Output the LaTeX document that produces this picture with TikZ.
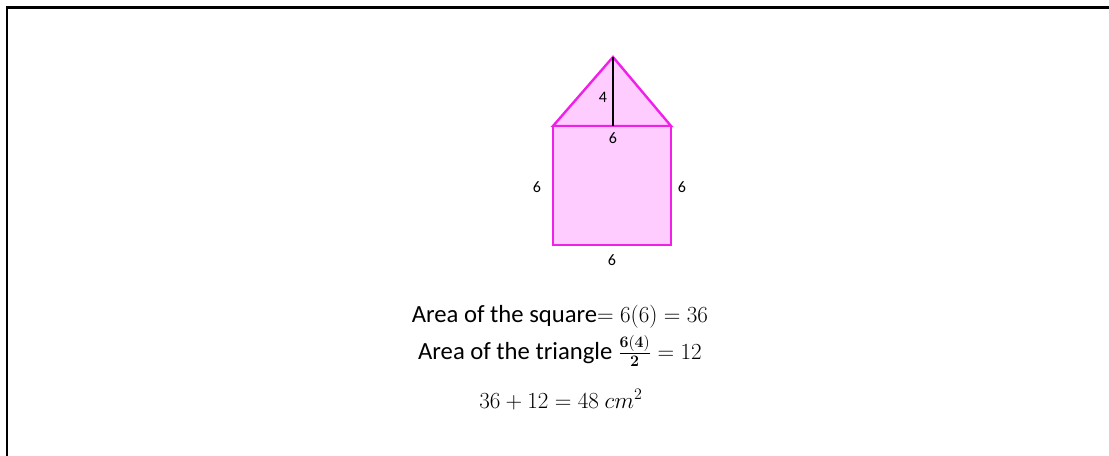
\documentclass[tikz,border=0pt]{standalone}
\usepackage{amsmath}
\usepackage[no-math]{fontspec}
\setmainfont{Carlito}
\usepackage{xcolor}
\usetikzlibrary{positioning, calc}
\definecolor{shapepink}{HTML}{FFCCFF}
\definecolor{shapeline}{HTML}{F020E8}
\tikzset{
    dimlabel/.style={font=\fontsize{12}{14}\selectfont, inner sep=1pt},
    areatext/.style={font=\fontsize{18.5}{22}\selectfont, inner sep=0pt, anchor=base}
}

\begin{document}
\begin{tikzpicture}[x=0.75pt, y=-0.75pt]
    \useasboundingbox (0, 0) rectangle (1109, 456);
    % 边框
    \draw[line width=1.9pt] (7, 456) -- (7, 7.5) -- (1109, 7.5);

    % 顶点
    \coordinate (sqbl) at (553, 245);
    \coordinate (sqbr) at (671, 245);
    \coordinate (sqtr) at (671, 126);
    \coordinate (sqtl) at (553, 126);
    \coordinate (apex) at (613, 57);
    \coordinate (foot) at (613, 126);

    % 三角形 和 正方形
    \draw[line width=1.8pt, shapeline, fill=shapepink, line join=miter] (sqtl) -- (apex) -- (sqtr) -- cycle;
    \draw[line width=1.8pt, shapeline, fill=shapepink] (sqbl) rectangle (sqtr);
    \draw[line width=0.9pt] (apex) -- (foot);

    % 边长
    \node[dimlabel] (hgt) at (603, 97) {4};
    \node[dimlabel] (top) at (613, 138) {6};
    \node[dimlabel] (lft) at (537, 187) {6};
    \node[dimlabel] (rgt) at (682, 187) {6};
    \node[dimlabel] (bot) at (612, 260) {6};

    % 面积
    \node[areatext] (sqarea) at (560, 322) {Area of the square$=6(6)=36$};
    \node[areatext] (triarea) at (560, 359) {Area of the triangle $\frac{\mathbf{6(4)}}{\mathbf{2}}=12$};
    \node[areatext] (total) at (561, 408) {$36+12=48\ cm^2$};
\end{tikzpicture}
\end{document}
